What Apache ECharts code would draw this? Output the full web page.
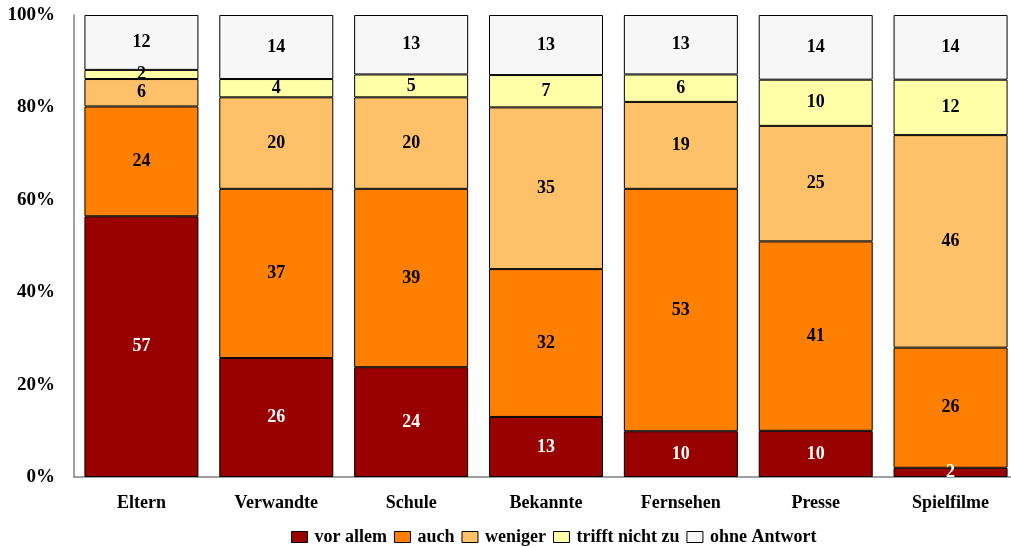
<!DOCTYPE html>
<html>
<head>
<meta charset="utf-8">
<script src="https://cdn.jsdelivr.net/npm/echarts@6/dist/echarts.min.js"></script>
<style>
  html, body { margin: 0; padding: 0; background: #fff; overflow: hidden; }
  #chart { width: 1018px; height: 547px; }
</style>
</head>
<body>
<div id="chart"></div>
<script>
// Kategorien und Werte (Rohwerte, Summe je Balken ca. 100)
var categories = ['Eltern', 'Verwandte', 'Schule', 'Bekannte', 'Fernsehen', 'Presse', 'Spielfilme'];
var seriesNames = ['vor allem', 'auch', 'weniger', 'trifft nicht zu', 'ohne Antwort'];
var vorAllem    = [57, 26, 24, 13, 10, 10, 2];
var auch        = [24, 37, 39, 32, 53, 41, 26];
var weniger     = [6, 20, 20, 35, 19, 25, 46];
var triffNicht  = [2, 4, 5, 7, 6, 10, 12];
var ohneAntwort = [12, 14, 13, 13, 13, 14, 14];
var yTicks = [0, 20, 40, 60, 80, 100];

var colors = ['#990000', '#ff8000', '#ffc06a', '#ffffa8', '#f7f7f7'];
var labelColors = ['#fff', '#000', '#000', '#000', '#000'];
var allData = [vorAllem, auch, weniger, triffNicht, ohneAntwort];

// Summen je Kategorie fuer 100%-Normierung
var totals = categories.map(function (c, i) {
    var s = 0;
    allData.forEach(function (arr) { s += arr[i]; });
    return s;
});

var font = 'Liberation Serif';

var series = allData.map(function (arr, k) {
    return {
        name: seriesNames[k],
        type: 'bar',
        stack: 'all',
        barWidth: 114,
        data: arr.map(function (v, i) {
            return { value: v / totals[i] * 100, raw: v };
        }),
        itemStyle: {
            color: colors[k],
            borderColor: '#000',
            borderWidth: 1
        },
        label: {
            show: true,
            position: 'inside',
            color: labelColors[k],
            fontFamily: font,
            fontWeight: 'bold',
            fontSize: 18,
            formatter: function (p) { return p.data.raw; }
        }
    };
});

var option = {
    animation: false,
    backgroundColor: '#fff',
    grid: { left: 74, right: 0, top: 15, height: 462 },
    legend: {
        top: 523,
        left: 286,
        itemWidth: 16,
        itemHeight: 11,
        itemGap: 7,
        icon: 'rect',
        itemStyle: { borderColor: '#000', borderWidth: 1 },
        textStyle: { fontFamily: font, fontWeight: 'bold', fontSize: 18, color: '#000', padding: [0, 0, 0, 2] },
        data: seriesNames
    },
    xAxis: {
        type: 'category',
        data: categories,
        axisLine: { lineStyle: { color: '#808080', width: 1.5 } },
        axisTick: { show: false },
        axisLabel: { fontFamily: font, fontWeight: 'bold', fontSize: 18, color: '#000', margin: 17 }
    },
    yAxis: {
        type: 'value',
        min: yTicks[0],
        max: yTicks[yTicks.length - 1],
        interval: 20,
        axisLine: { show: true, lineStyle: { color: '#808080', width: 1.5 } },
        axisTick: { show: false },
        splitLine: { show: false },
        axisLabel: {
            fontFamily: font, fontWeight: 'bold', fontSize: 19, color: '#000', margin: 19,
            formatter: '{value}%'
        }
    },
    series: series
};

var chart = echarts.init(document.getElementById('chart'), null, { renderer: 'canvas' });
chart.setOption(option);
</script>
</body>
</html>
